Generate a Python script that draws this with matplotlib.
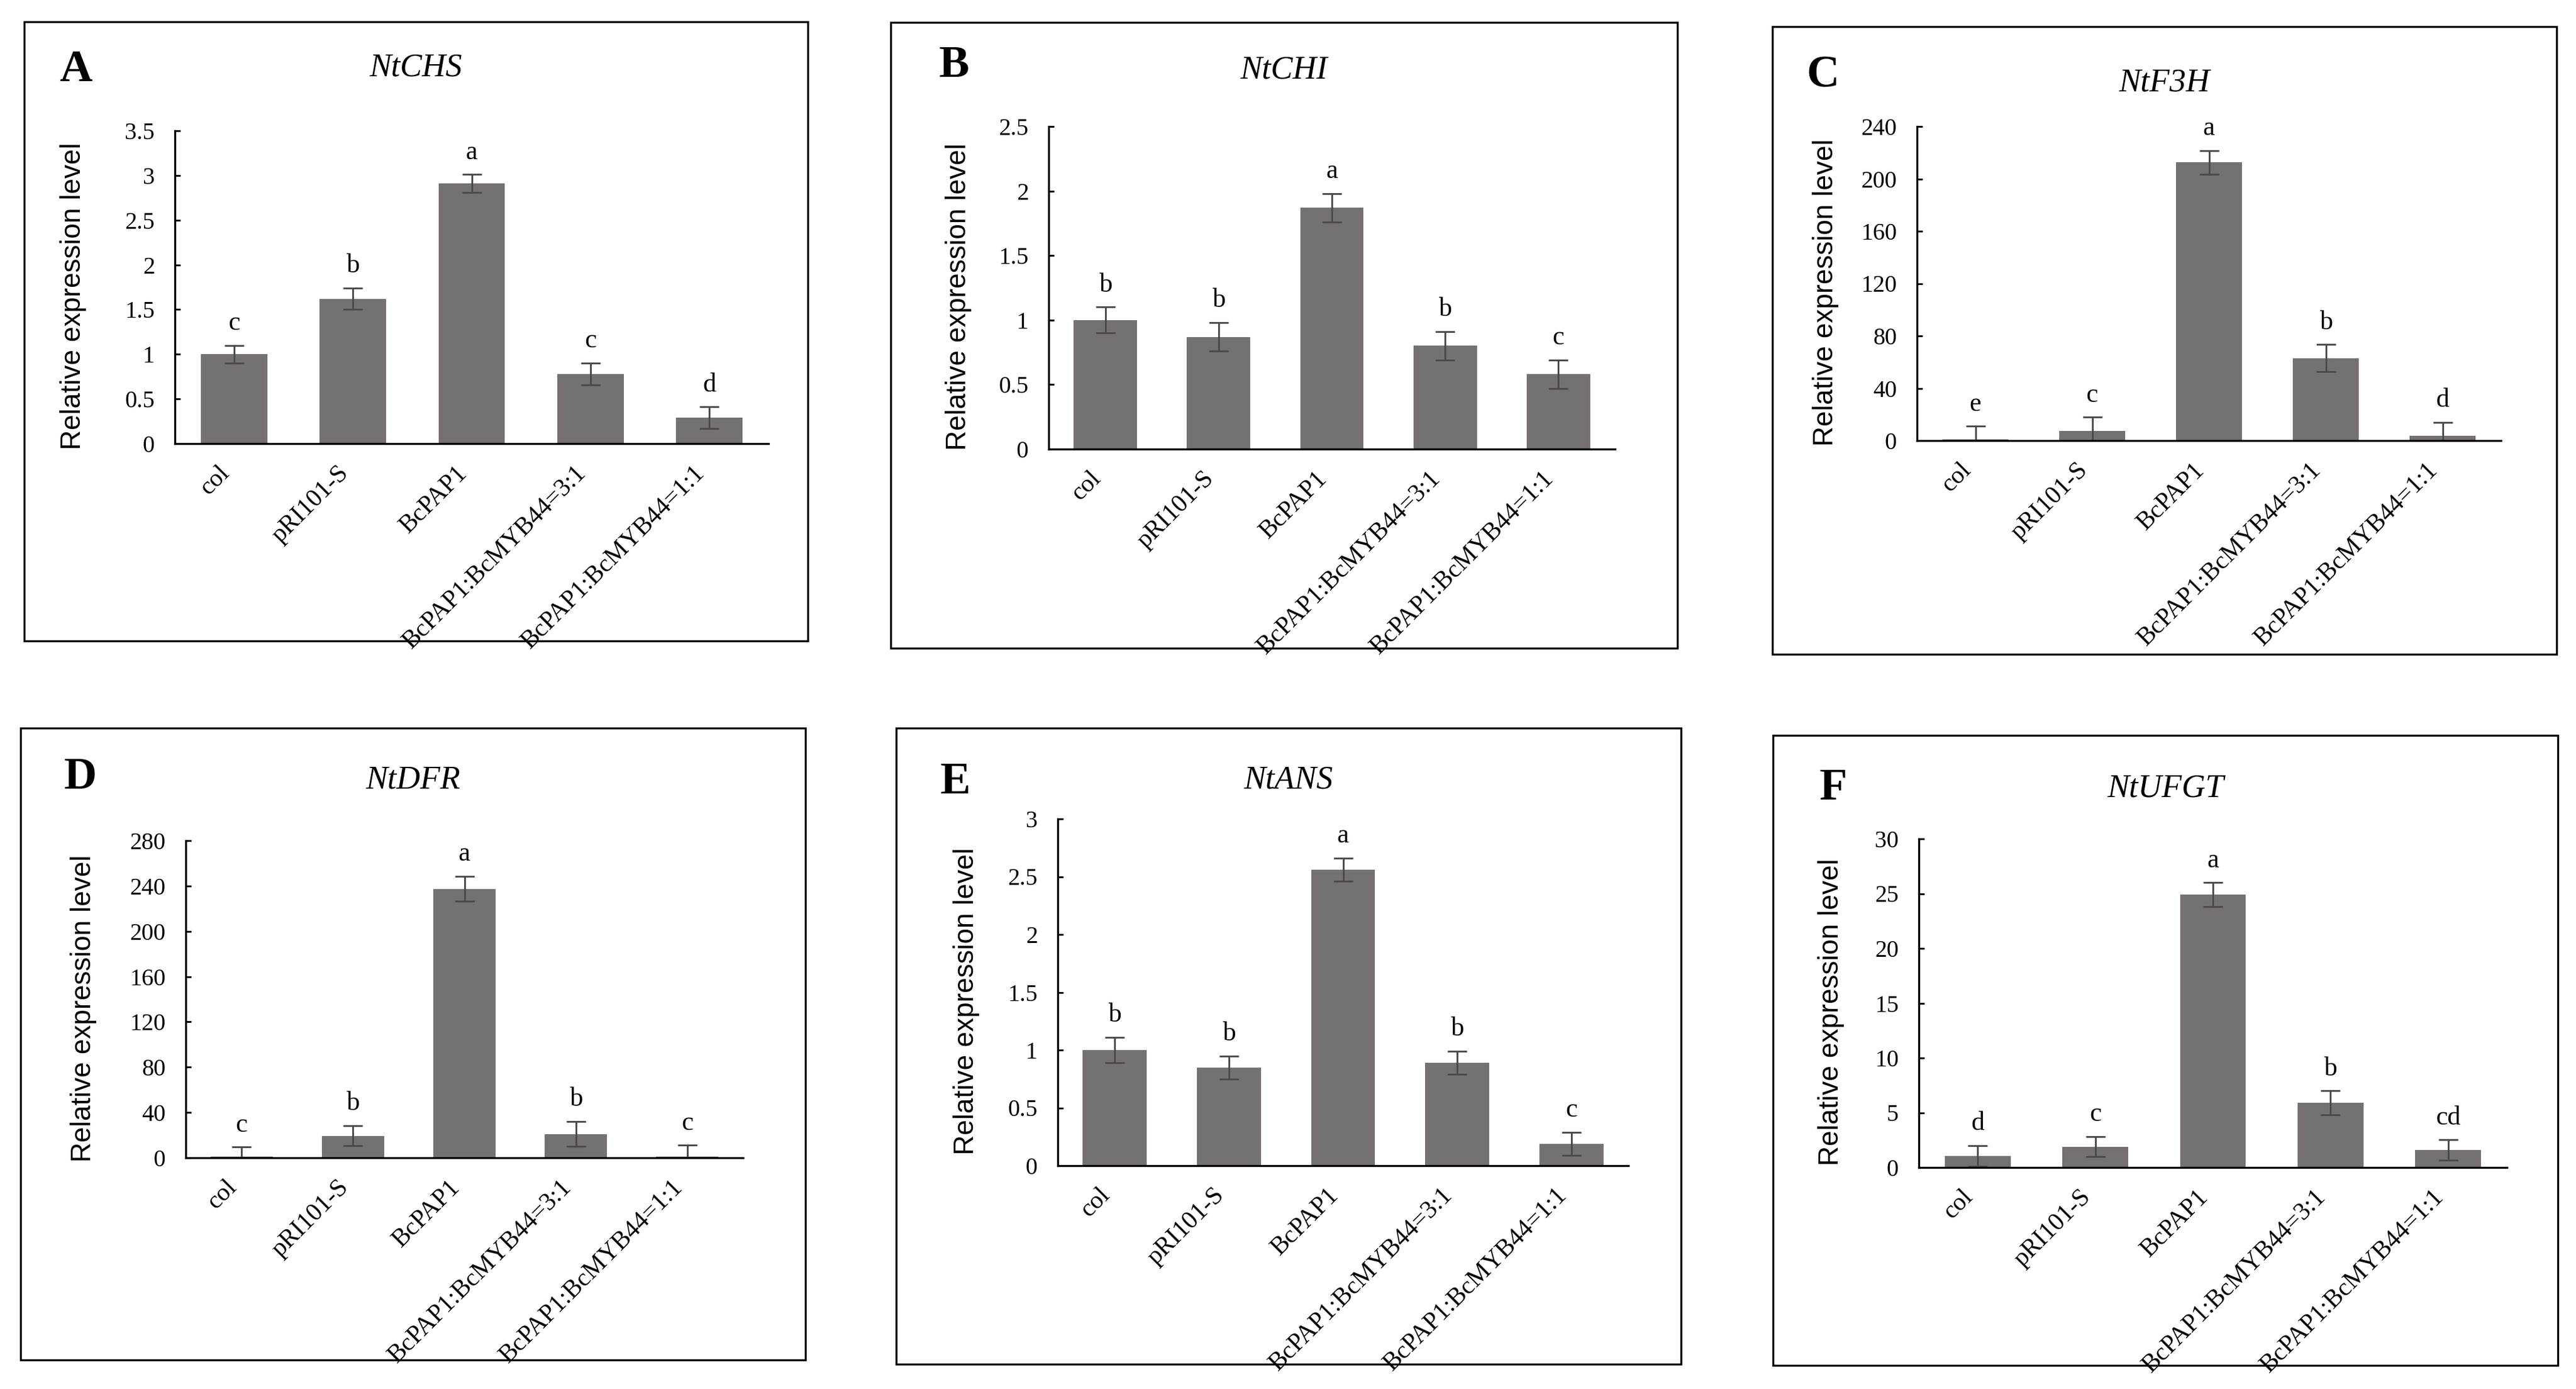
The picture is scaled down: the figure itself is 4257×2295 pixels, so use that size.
import matplotlib
matplotlib.use("Agg")
import matplotlib.pyplot as plt
from matplotlib.patches import Rectangle
from matplotlib.ticker import FuncFormatter
import numpy as np

# ---- data ----
groups = ['col', 'pRI101-S', 'BcPAP1', 'BcPAP1:BcMYB44=3:1', 'BcPAP1:BcMYB44=1:1']

chs = [1.0, 1.62, 2.91, 0.78, 0.29]
chs_err = [0.10, 0.12, 0.10, 0.12, 0.12]
chs_sig = ['c', 'b', 'a', 'c', 'd']

chi = [1.0, 0.87, 1.87, 0.80, 0.58]
chi_err = [0.10, 0.11, 0.11, 0.11, 0.11]
chi_sig = ['b', 'b', 'a', 'b', 'c']

f3h = [1.0, 7.5, 212.5, 63.0, 3.6]
f3h_err = [10.0, 10.4, 9.2, 10.4, 10.4]
f3h_sig = ['e', 'c', 'a', 'b', 'd']

dfr = [1.0, 19.5, 237.4, 21.1, 1.0]
dfr_err = [8.5, 9.0, 11.0, 11.0, 10.0]
dfr_sig = ['c', 'b', 'a', 'b', 'c']

ans = [1.0, 0.85, 2.56, 0.89, 0.19]
ans_err = [0.11, 0.10, 0.10, 0.10, 0.10]
ans_sig = ['b', 'b', 'a', 'b', 'c']

ufgt = [1.05, 1.9, 24.9, 5.9, 1.6]
ufgt_err = [0.93, 0.93, 1.1, 1.1, 0.93]
ufgt_sig = ['d', 'c', 'a', 'b', 'cd']

genes = ['NtCHS', 'NtCHI', 'NtF3H', 'NtDFR', 'NtANS', 'NtUFGT']
letters = ['A', 'B', 'C', 'D', 'E', 'F']
ymaxs = [3.5, 2.5, 240, 280, 3, 30]
ysteps = [0.5, 0.5, 40, 40, 0.5, 5]

W, H = 4257, 2295
# layout in pixels: axes (x0, x1, ytop, ybot), panel box (x0, x1, ytop, ybot)
axes_px = [(289, 1270, 216, 733), (1733, 2669, 209, 742), (3168, 4133, 209, 728),
           (307, 1228, 1389, 1913), (1748, 2691, 1353, 1926), (3171, 4143, 1386, 1929)]
box_px = [(40, 1335, 36, 1059), (1472, 2772, 37, 1071), (2929, 4225, 44, 1081),
          (34, 1331, 1203, 2247), (1481, 2778, 1203, 2254), (2930, 4227, 1215, 2256)]
letter_px = [(125, 116), (1577, 109), (3012, 126), (133, 1285), (1579, 1293), (3030, 1303)]
title_y = [112, 116, 137, 1289, 1289, 1303]
ylab_x = [121, 1584, 3017, 138, 1597, 3026]

values = [chs, chi, f3h, dfr, ans, ufgt]
errors = [chs_err, chi_err, f3h_err, dfr_err, ans_err, ufgt_err]
sigs = [chs_sig, chi_sig, f3h_sig, dfr_sig, ans_sig, ufgt_sig]

serif = 'Liberation Serif'
sans = 'Liberation Sans'
bar_color = '#767171'
err_color = '#4a4a4a'

fig = plt.figure(figsize=(W / 300, H / 300), dpi=300)

def fx(px):
    return px / W

def fy(py):
    return 1 - py / H

x = np.arange(len(groups))
for i in range(6):
    ax0, ax1, at, ab = axes_px[i]
    ax = fig.add_axes([fx(ax0), fy(ab), fx(ax1 - ax0), (ab - at) / H])
    ax.bar(x, values[i], width=0.56, color=bar_color, zorder=2)
    ax.errorbar(x, values[i], yerr=errors[i], fmt='none', ecolor=err_color,
                elinewidth=0.7, capsize=3.8, capthick=0.7, zorder=3)
    for xi, v, e, s in zip(x, values[i], errors[i], sigs[i]):
        ax.annotate(s, (xi, v + e), xytext=(0, 4), textcoords='offset points',
                    ha='center', va='bottom', fontsize=10.5, family=serif)
    ax.set_xlim(-0.5, 4.5)
    ax.set_ylim(0, ymaxs[i])
    ax.set_yticks(np.arange(0, ymaxs[i] + ysteps[i] / 2, ysteps[i]))
    ax.yaxis.set_major_formatter(FuncFormatter(lambda v, p: '%g' % round(v, 2)))
    ax.set_xticks(x)
    ax.set_xticklabels(groups, rotation=45, ha='right', va='top', fontsize=10, family=serif)
    for lab in ax.get_yticklabels():
        lab.set_family(serif)
        lab.set_fontsize(9.5)
    ax.tick_params(axis='y', direction='in', length=2.2, width=0.7, pad=8)
    ax.tick_params(axis='x', length=0, pad=7)
    for side in ['top', 'right']:
        ax.spines[side].set_visible(False)
    for side in ['left', 'bottom']:
        ax.spines[side].set_linewidth(0.8)
        ax.spines[side].set_zorder(4)

    bx0, bx1, bt, bb = box_px[i]
    fig.patches.append(Rectangle((fx(bx0), fy(bb)), fx(bx1 - bx0), (bb - bt) / H,
                                 transform=fig.transFigure, fill=False,
                                 edgecolor='black', linewidth=0.8))
    fig.text(fx(letter_px[i][0]), fy(letter_px[i][1]), letters[i], ha='center', va='center',
             fontsize=18, fontweight='bold', family=serif)
    fig.text(fx((bx0 + bx1) / 2), fy(title_y[i]), genes[i], ha='center', va='center',
             fontsize=13, style='italic', family=serif)
    fig.text(fx(ylab_x[i]), fy((at + ab) / 2 + 15), 'Relative expression level',
             rotation=90, ha='center', va='center', fontsize=11, family=sans)

fig.savefig('out.png', dpi=300)
